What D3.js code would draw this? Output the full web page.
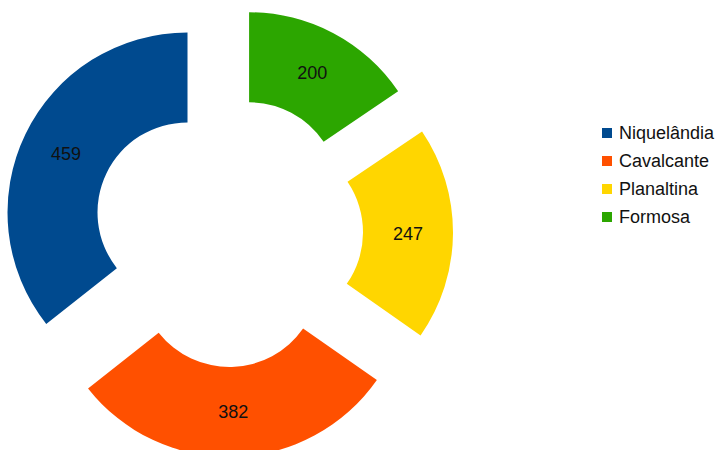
<!DOCTYPE html>
<html>
<head>
<meta charset="utf-8">
<script src="https://cdn.jsdelivr.net/npm/d3@7"></script>
<style>
  body { margin: 0; background: #fff; }
  svg { display: block; font-family: "Liberation Sans", Arial, sans-serif; }
</style>
</head>
<body>
<div id="chart"></div>
<script>
// Données
const cities = ["Niquelândia", "Cavalcante", "Planaltina", "Formosa"];
const values = [459, 382, 247, 200];
const colors = ["#004a8f", "#ff5000", "#ffd600", "#2ca600"];

const width = 718;
const height = 450;

const cx = 228;
const cy = 232;
const innerR = 90;
const outerR = 180;
const explode = 45;

const svg = d3.select("#chart")
  .append("svg")
  .attr("width", width)
  .attr("height", height)
  .style("background-color", "#fff");

// Sens anti-horaire depuis midi
const pie = d3.pie()
  .sort(null)
  .startAngle(0)
  .endAngle(-2 * Math.PI)
  .value((d) => d);

const arc = d3.arc().innerRadius(innerR).outerRadius(outerR);
const labelArc = d3.arc().innerRadius((innerR + outerR) / 2).outerRadius((innerR + outerR) / 2);

const slices = pie(values);

const g = svg.append("g").attr("transform", `translate(${cx},${cy})`);

const slice = g.selectAll("g.slice")
  .data(slices)
  .join("g")
  .attr("class", "slice")
  .attr("transform", (d) => {
    const mid = (d.startAngle + d.endAngle) / 2;
    return `translate(${Math.sin(mid) * explode},${-Math.cos(mid) * explode})`;
  });

slice.append("path")
  .attr("d", arc)
  .attr("fill", (d, i) => colors[i]);

slice.append("text")
  .attr("transform", (d) => `translate(${labelArc.centroid(d)})`)
  .attr("text-anchor", "middle")
  .attr("dy", "0.35em")
  .attr("font-size", 18)
  .attr("fill", "#111")
  .text((d) => d.data);

// Légende
const legend = svg.append("g").attr("transform", "translate(602,133)");

const item = legend.selectAll("g")
  .data(cities)
  .join("g")
  .attr("transform", (d, i) => `translate(0,${i * 28})`);

item.append("rect")
  .attr("x", 0)
  .attr("y", -5)
  .attr("width", 10)
  .attr("height", 10)
  .attr("fill", (d, i) => colors[i]);

item.append("text")
  .attr("x", 17)
  .attr("dy", "0.35em")
  .attr("font-size", 18)
  .attr("fill", "#111")
  .text((d) => d);
</script>
</body>
</html>
